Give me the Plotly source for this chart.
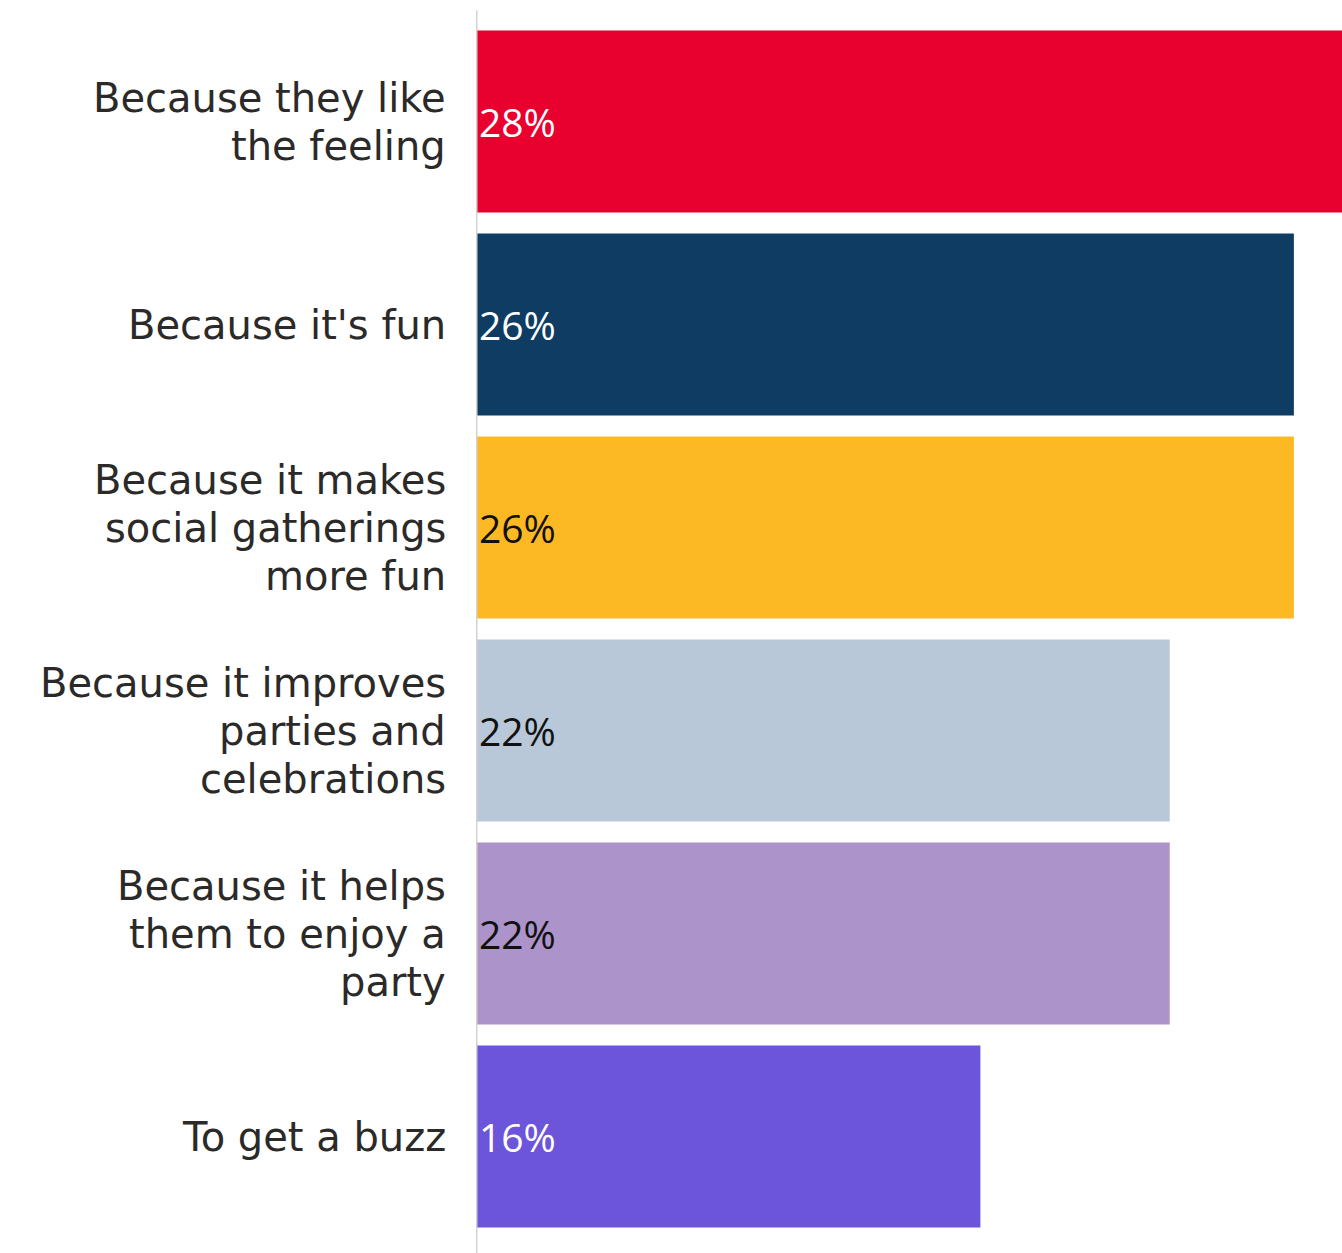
import plotly.graph_objects as go

categories = [
    "Because they like<br>the feeling",
    "Because it's fun",
    "Because it makes<br>social gatherings<br>more fun",
    "Because it improves<br>parties and<br>celebrations",
    "Because it helps<br>them to enjoy a<br>party",
    "To get a buzz",
]
values = [27.9, 26.35, 26.35, 22.35, 22.35, 16.25]
bar_colors = ["#E8002F", "#0E3C63", "#FDB924", "#B8C8D8", "#AC93C9", "#6C55DA"]
text_colors = ["#FFFFFF", "#FFFFFF", "#111111", "#111111", "#111111", "#FFFFFF"]
labels = [f"{round(v)}%" for v in values]

LABEL_FONT = "DejaVu Sans"
BAR_FONT = "Open Sans"
W, H = 1342, 1253

fig = go.Figure(
    go.Bar(
        x=values,
        y=categories,
        orientation="h",
        marker=dict(color=bar_colors, line=dict(width=0)),
        text=labels,
        textposition="inside",
        insidetextanchor="start",
        insidetextfont=dict(family=BAR_FONT, size=39, color=text_colors),
        textangle=0,
        hoverinfo="skip",
    )
)

annotations = []
line_gap = 48
for cat in categories:
    lines = cat.split("<br>")
    n = len(lines)
    for i, ln in enumerate(lines):
        annotations.append(
            dict(
                xref="paper", yref="y", x=0, y=cat,
                xanchor="right", yanchor="middle",
                xshift=-29, yshift=((n - 1) / 2 - i) * line_gap,
                text=ln, showarrow=False, borderpad=0,
                font=dict(family=LABEL_FONT, size=40, color="#2B2A28"),
            )
        )

fig.update_layout(
    width=W, height=H,
    margin=dict(l=476, r=0, t=20, b=15, pad=0),
    paper_bgcolor="white", plot_bgcolor="white",
    bargap=0.103,
    showlegend=False,
    annotations=annotations,
    shapes=[
        dict(type="line", xref="x", yref="paper", x0=0, x1=0,
             y0=-0.02, y1=1.008, line=dict(color="#D4D2CF", width=3))
    ],
    uniformtext=dict(mode=False),
)
fig.update_xaxes(range=[0, values[0]], visible=False, showgrid=False, zeroline=False)
fig.update_yaxes(autorange="reversed", showticklabels=False, showgrid=False,
                 zeroline=False, showline=False, ticks="")

fig.write_html(
    "out.html",
    config={"displayModeBar": False},
    post_script="document.body.style.margin='0';document.body.style.overflow='hidden';",
)
